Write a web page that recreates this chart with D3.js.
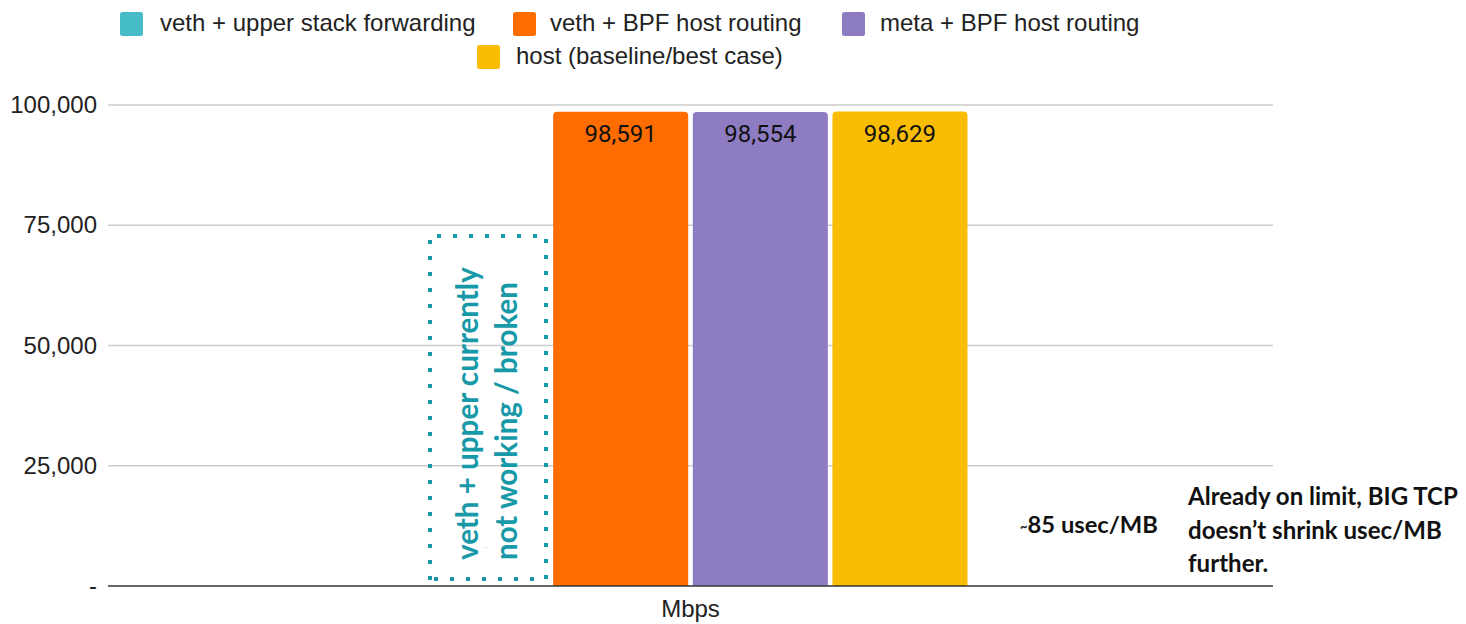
<!DOCTYPE html>
<html><head><meta charset="utf-8">
<script src="https://cdn.jsdelivr.net/npm/d3@7"></script>
<style>html,body{margin:0;padding:0;background:#fff;}svg{display:block;}</style>
</head><body>
<svg id="c" width="1466" height="624"></svg>
<script>
const categories = ["Mbps"];
const series = ["veth + upper stack forwarding", "veth + BPF host routing", "meta + BPF host routing", "host (baseline/best case)"];
const values = [0, 98591, 98554, 98629];
const valueLabels = ["-", "98,591", "98,554", "98,629"];
const colors = ["#46bdc6", "#ff6d01", "#8e7cc3", "#fbbc04"];
const yTicks = [0, 25000, 50000, 75000, 100000];
const yTickLabels = ["-", "25,000", "50,000", "75,000", "100,000"];
const boxLines = ["veth + upper currently", "not working / broken"];
const note1 = ["~", "85 usec/MB"];
const note2 = ["Already on limit, BIG TCP", "doesn\u2019t shrink usec/MB", "further."];

const svg = d3.select("#c");
const L = 108, R = 1273, T = 105, B = 586;
const y = d3.scaleLinear().domain([0, 100000]).range([B, T]);
const x0 = d3.scaleBand().domain(categories).range([L, R]).paddingInner(0).paddingOuter(0.5515);
const x1 = d3.scaleBand().domain(series).range([0, x0.bandwidth()]).paddingInner(0.033);
const SANS = "Liberation Sans, Arial, sans-serif";

// fit a text element's font size so its first line spans a target width
function fit(sel, target, firstTspan) {
  sel.attr("font-size", 20);
  const node = firstTspan ? sel.select("tspan").node() : sel.node();
  const len = node.getComputedTextLength();
  sel.attr("font-size", 20 * target / len);
}

// gridlines
svg.append("g").selectAll("line").data(yTicks.filter(d => d > 0)).join("line")
  .attr("x1", L).attr("x2", R).attr("y1", d => y(d)).attr("y2", d => y(d))
  .attr("stroke", "#cccccc").attr("stroke-width", 1.3);

// y axis labels
const yAxis = d3.axisLeft(y).tickValues(yTicks).tickSize(0).tickPadding(11)
  .tickFormat((d, i) => yTickLabels[i]);
const ga = svg.append("g").attr("transform", `translate(${L},0)`).call(yAxis);
ga.select(".domain").remove();
ga.selectAll("text").attr("font-family", SANS).attr("font-size", 24).attr("fill", "#222");

// bars with rounded tops
const g = svg.append("g").attr("transform", `translate(${x0(categories[0])},0)`);
function topRounded(x, yy, w, h, r) {
  if (h <= 0) return "";
  r = Math.min(r, h);
  return `M${x},${yy + h}V${yy + r}Q${x},${yy} ${x + r},${yy}H${x + w - r}Q${x + w},${yy} ${x + w},${yy + r}V${yy + h}Z`;
}
const barData = series.map((s, i) => ({ s, v: values[i], c: colors[i], l: valueLabels[i] }));
g.selectAll("path.bar").data(barData).join("path")
  .attr("class", "bar")
  .attr("d", d => topRounded(x1(d.s), y(d.v), x1.bandwidth(), y(0) - y(d.v), 4))
  .attr("fill", d => d.c);
g.selectAll("text.vl").data(barData).join("text")
  .attr("class", "vl")
  .attr("x", d => x1(d.s) + x1.bandwidth() / 2 + (d.v > 0 ? 0 : 5))
  .attr("y", d => d.v > 0 ? y(d.v) + 30 : y(0) - 36)
  .attr("text-anchor", "middle")
  .attr("font-family", "Roboto, sans-serif").attr("font-size", d => d.v > 0 ? 24 : 9)
  .attr("fill", d => d.v > 0 ? "#111" : "#b5dde0")
  .text(d => d.l);

// baseline
svg.append("line").attr("x1", L).attr("x2", R).attr("y1", y(0)).attr("y2", y(0))
  .attr("stroke", "#333").attr("stroke-width", 1.6);

// x category label
svg.append("text").attr("x", x0(categories[0]) + x0.bandwidth() / 2).attr("y", 617)
  .attr("text-anchor", "middle").attr("font-family", SANS)
  .attr("font-size", 24).attr("fill", "#222").text(categories[0]);

// legend
const legend = [
  { i: 0, sx: 120, sy: 12, tx: 160, ty: 31 },
  { i: 1, sx: 513, sy: 12, tx: 550, ty: 31 },
  { i: 2, sx: 842, sy: 12, tx: 880, ty: 31 },
  { i: 3, sx: 477, sy: 45, tx: 516, ty: 64 }
];
const lg = svg.append("g");
legend.forEach(d => {
  lg.append("rect").attr("x", d.sx).attr("y", d.sy).attr("width", 23).attr("height", 24).attr("rx", 2.5).attr("fill", colors[d.i]);
  lg.append("text").attr("x", d.tx).attr("y", d.ty).attr("font-family", SANS)
    .attr("font-size", 24).attr("fill", "#222").text(series[d.i]);
});

// dotted box annotation
const teal = "#1799a8";
const dots = svg.append("g").attr("stroke", teal).attr("stroke-width", 4).attr("stroke-dasharray", "4,12");
dots.append("line").attr("x1", 437).attr("x2", 545).attr("y1", 236).attr("y2", 236);
dots.append("line").attr("x1", 430).attr("x2", 430).attr("y1", 240).attr("y2", 582);
dots.append("line").attr("x1", 546).attr("x2", 546).attr("y1", 239).attr("y2", 582);
dots.append("line").attr("x1", 434).attr("x2", 545).attr("y1", 579).attr("y2", 579);

const boxPos = [{ x: 478, w: 293 }, { x: 517, w: 278 }];
boxLines.forEach((t, i) => {
  const tt = svg.append("text").attr("transform", `translate(${boxPos[i].x},560) rotate(-90)`)
    .attr("font-family", "Lato, sans-serif").attr("font-weight", "bold").attr("fill", teal).text(t);
  fit(tt, boxPos[i].w, false);
});

// right annotations
const n1 = svg.append("text").attr("x", 1020).attr("y", 533).attr("font-family", "Lato, sans-serif")
  .attr("font-weight", "bold").attr("fill", "#111");
n1.append("tspan").attr("font-size", "55%").attr("dy", -2).text(note1[0]);
n1.append("tspan").attr("dy", 2).text(note1[1]);
fit(n1, 138, false);
const n2 = svg.append("text").attr("font-family", "Lato, sans-serif").attr("font-weight", "bold").attr("fill", "#111");
note2.forEach((t, i) => n2.append("tspan").attr("x", 1188).attr("y", 505 + i * 33.5).text(t));
fit(n2, 270, true);
</script>
</body></html>
